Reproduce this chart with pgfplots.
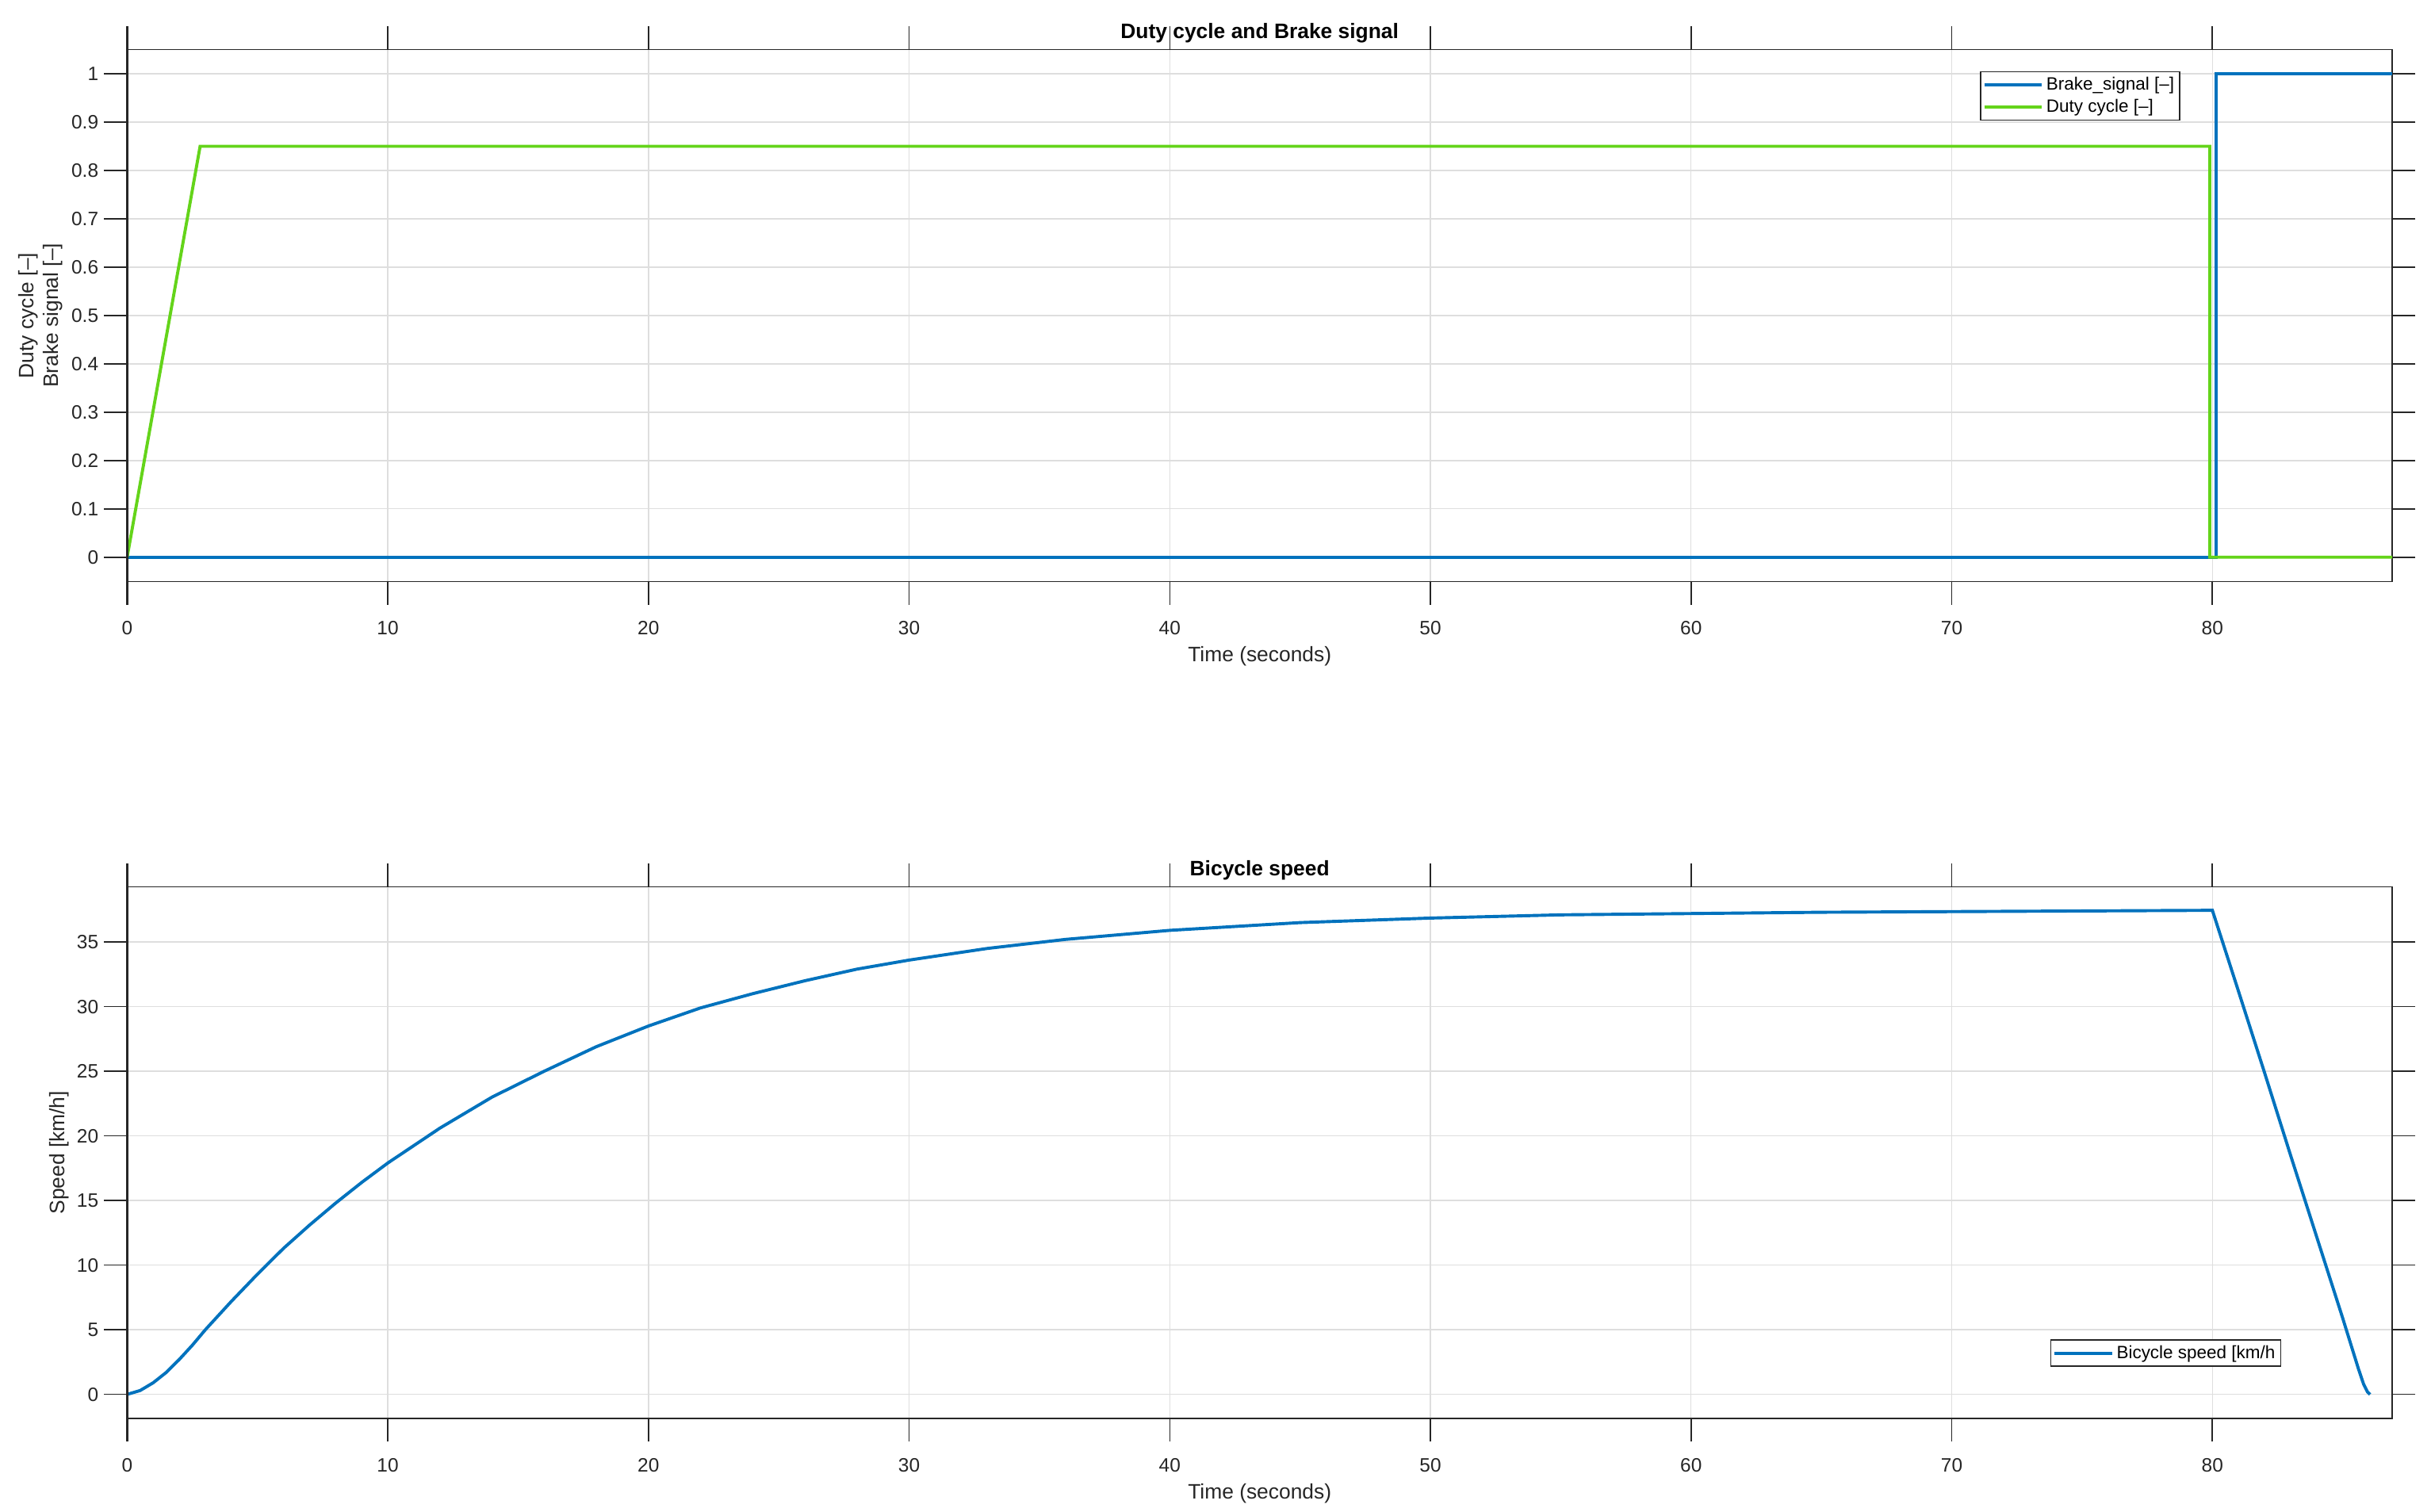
\documentclass[border=0pt]{standalone}
\usepackage{fontspec}
\setmainfont{Liberation Sans}
\usepackage{pgfplots}
\pgfplotsset{compat=1.18}

\definecolor{mblue}{RGB}{0,114,189}
\definecolor{mgreen}{RGB}{100,212,26}
\definecolor{axgray}{RGB}{38,38,38}
\definecolor{gridgray}{RGB}{222,222,222}

\pgfplotsset{
  mlab/.style={
    scale only axis, width=1461pt, height=343pt,
    xmin=0, xmax=86.9,
    xtick={0,10,20,30,40,50,60,70,80},
    tick align=outside, xtick pos=both, ytick pos=both,
    xticklabel pos=lower, yticklabel pos=left,
    major tick length=15pt,
    tick style={axgray, line width=0.8pt},
    axis line style={axgray, line width=0.75pt},
    grid=major, major grid style={gridgray, line width=0.7pt},
    /pgf/number format/assume math mode=true,
    ticklabel style={font=\fontsize{12.5}{14}\selectfont, text=axgray},
    xticklabel style={yshift=-7pt},
    label style={font=\fontsize{13.5}{16}\selectfont, text=axgray},
    title style={font=\bfseries\fontsize{13.5}{16}\selectfont, at={(0.5,1)}, anchor=base, yshift=1pt},
    xlabel={Time (seconds)},
    xlabel style={at={(axis description cs:0.5,0)}, anchor=base, yshift=-52pt},
    legend cell align=left,
    legend style={font=\fontsize{11.5}{13.5}\selectfont, draw=axgray, line width=0.7pt, fill=white,
      inner sep=1.5pt, row sep=0.5pt},
    legend image code/.code={\draw[#1] (0pt,0pt) -- (37pt,0pt);},
    after end axis/.code={\draw[axgray, line width=1.2pt] ([yshift=15pt]rel axis cs:0,1) -- ([yshift=-15pt]rel axis cs:0,0);},
  }
}

\begin{document}
\begin{tikzpicture}
\useasboundingbox (0,0) rectangle (1568pt,975pt);

% duty cycle and brake signal
\begin{axis}[mlab,
  at={(82pt,600pt)}, anchor=south west,
  ymin=-0.05, ymax=1.05,
  ytick={0,0.1,0.2,0.3,0.4,0.5,0.6,0.7,0.8,0.9,1},
  title={Duty cycle and Brake signal},
  ylabel={Duty cycle [\textendash]\\Brake signal [\textendash]},
  ylabel style={align=center, at={(axis description cs:-0.026,0.5)}, anchor=south},
  legend style={at={(0.818,0.959)}, anchor=north west},
]
\addplot[mblue, line width=2pt] coordinates {(0,0) (80.15,0) (80.15,1) (86.9,1)};
\addplot[mgreen, line width=2pt] coordinates {(0,0) (2.8,0.85) (79.9,0.85) (79.9,0) (86.9,0)};
\legend{Brake\_signal [\textendash], Duty cycle [\textendash]}
\end{axis}

% bicycle speed
\begin{axis}[mlab,
  at={(82pt,60pt)}, anchor=south west,
  ymin=-1.87, ymax=39.27,
  ytick={0,5,10,15,20,25,30,35},
  title={Bicycle speed},
  ylabel={Speed [km/h]},
  ylabel style={at={(axis description cs:-0.0233,0.5)}, anchor=south},
  legend style={at={(0.849,0.1487)}, anchor=north west},
]
\addplot[mblue, line width=2pt] coordinates {
  (0,0) (0.5,0.3) (1,0.9) (1.5,1.7) (2,2.7) (2.5,3.8) (3,5.0) (4,7.2) (5,9.3)
  (6,11.3) (7,13.1) (8,14.8) (9,16.4) (10,17.9) (12,20.6) (14,23.0) (16,25.0)
  (18,26.9) (20,28.5) (22,29.9) (24,31.0) (26,32.0) (28,32.9) (30,33.6)
  (33,34.5) (36,35.2) (40,35.9) (45,36.5) (50,36.85) (55,37.1) (60,37.2)
  (65,37.3) (70,37.35) (75,37.4) (80,37.45) (81,31.2) (82,24.9) (83,18.5)
  (84,12.2) (85,5.9) (85.6,2.0) (85.8,0.8) (85.95,0.2) (86.05,0)
};
\legend{Bicycle speed [km/h}
\end{axis}
\end{tikzpicture}
\end{document}
